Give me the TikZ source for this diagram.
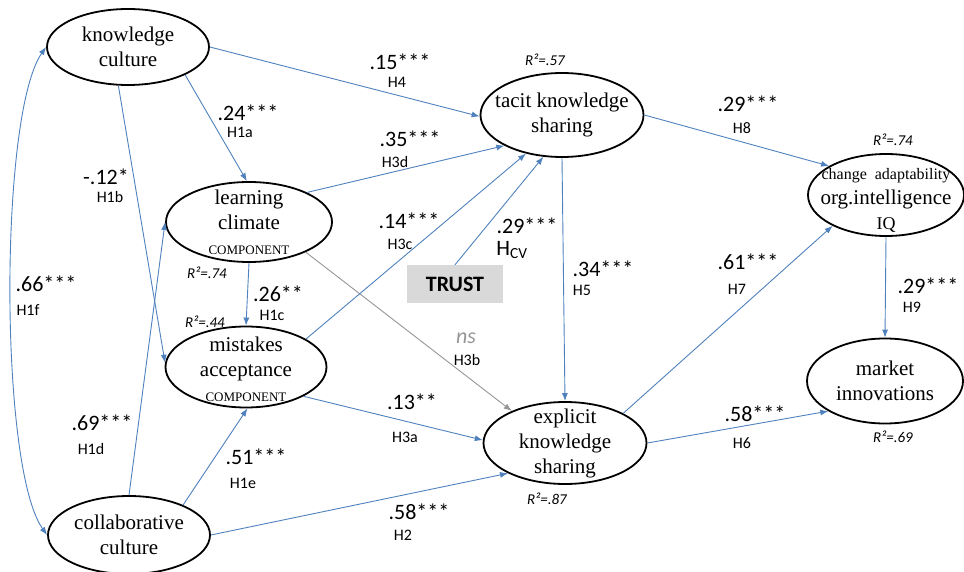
\documentclass[tikz,border=0pt]{standalone}
\usepackage{fontspec}
\setmainfont{Liberation Serif}
\newfontfamily\calibri{Carlito}
\usetikzlibrary{shapes.geometric,arrows.meta,positioning,calc}
\definecolor{pathblue}{RGB}{79,129,189}
\definecolor{nsgray}{RGB}{150,150,150}
\definecolor{trustgray}{RGB}{217,217,217}

\begin{document}
\begin{tikzpicture}[x=1pt,y=1pt,
    construct/.style={ellipse, draw, line width=1.8pt, inner sep=0pt},
    ctext/.style={align=center, font=\fontsize{21}{25}\selectfont},
    link/.style={draw=pathblue, line width=0.9pt, -{Latex[length=8pt,width=6pt]}},
    coef/.style={font=\calibri\fontsize{22}{24}\selectfont, inner sep=0pt},
    hyp/.style={font=\calibri\fontsize{16}{18}\selectfont, inner sep=0pt},
    rsq/.style={font=\calibri\itshape\fontsize{15}{17}\selectfont, inner sep=0pt}]
    \useasboundingbox (0,0) rectangle (964,571);

    % Constructs
    \node[construct, minimum width=162, minimum height=76,
        label={[ctext]center:knowledge\\culture}] (kc) at (128,524) {};
    \node[construct, minimum width=166, minimum height=80,
        label={[ctext]center:learning\\climate\\{\fontsize{13}{15}\selectfont COMPONENT}}] (lc) at (249,349) {};
    \node[construct, minimum width=161, minimum height=81,
        label={[ctext, yshift=-2pt]center:mistakes\\acceptance\\{\fontsize{13}{15}\selectfont COMPONENT}}] (ma) at (246,204) {};
    \node[construct, minimum width=162, minimum height=78,
        label={[ctext]center:collaborative\\culture}] (cc) at (129,36) {};
    \node[construct, minimum width=163, minimum height=84,
        label={[ctext]center:tacit knowledge\\sharing}] (tks) at (562,456) {};
    \node[construct, minimum width=163, minimum height=82,
        label={[ctext]center:explicit\\knowledge\\sharing}] (eks) at (565,128) {};
    \node[construct, minimum width=156, minimum height=82,
        label={[ctext, yshift=-5pt]center:{\fontsize{16}{18}\selectfont change\ \ adaptability}\\org.intelligence\\{\fontsize{18}{19}\selectfont IQ}}] (oiq) at (886,376) {};
    \node[construct, minimum width=156, minimum height=85,
        label={[ctext]center:market\\innovations}] (mi) at (885,190) {};
    \node[fill=trustgray, minimum width=96, minimum height=38,
        font=\calibri\bfseries\fontsize{22}{24}\selectfont] (trust) at (455,287) {TRUST};

    % Paths
    \draw[link] (kc.east) -- (tks.181);
    \draw[link] (kc.-26) -- (lc.93);
    \draw[link] (kc.256) -- (ma.177);
    \draw[link, {Latex[length=8pt,width=6pt]}-{Latex[length=8pt,width=6pt]}]
        (kc.west) .. controls +(-47,-67) and +(-48,67) .. (cc.west);
    \draw[link] (cc.north) -- (lc.west);
    \draw[link] (cc.29) -- (ma.-88);
    \draw[link] (cc.east) -- (eks.208);
    \draw[link] (lc.27) -- (tks.208);
    \draw[link] (lc.south) -- (ma.north);
    \draw[link, draw=nsgray] (lc.-28) -- (eks.149);
    \draw[link] (ma.25) -- (tks.227);
    \draw[link] (ma.-27) -- (eks.178);
    \draw[link] (trust.north) -- (tks.246);
    \draw[link] (tks.south) -- (eks.north);
    \draw[link] (tks.east) -- (oiq.153);
    \draw[link] (eks.27) -- (oiq.210);
    \draw[link] (eks.east) -- (mi.208);
    \draw[link] (oiq.south) -- (mi.north);

    % Coefficients and hypotheses
    \node[coef] (v4) at (400,509) {.15***};   \node[hyp] (h4) at (397,489) {H4};
    \node[coef] (v1a) at (248,458) {.24***};  \node[hyp] (h1a) at (240,439) {H1a};
    \node[coef] (v1b) at (106,394) {-.12*};   \node[hyp] (h1b) at (110,374) {H1b};
    \node[coef] (v1f) at (46,287) {.66***};   \node[hyp] (h1f) at (28,261) {H1f};
    \node[coef] (v1d) at (102,148) {.69***};  \node[hyp] (h1d) at (91,122) {H1d};
    \node[coef] (v1e) at (256,114) {.51***};  \node[hyp] (h1e) at (243,88) {H1e};
    \node[coef] (v1c) at (278,277) {.26**};   \node[hyp] (h1c) at (272,256) {H1c};
    \node[coef] (v3d) at (410,432) {.35***};  \node[hyp] (h3d) at (395,409) {H3d};
    \node[coef] (v3c) at (409,350) {.14***};  \node[hyp] (h3c) at (400,327) {H3c};
    \node[coef] (vcv) at (527,345) {.29***};  \node[coef] (hcv) at (512,321) {H\textsubscript{CV}};
    \node[coef] (v5) at (603,302) {.34***};   \node[hyp] (h5) at (582,281) {H5};
    \node[coef, text=nsgray, font=\calibri\itshape\fontsize{22}{24}\selectfont] (vns) at (466,233) {ns};
    \node[hyp] (h3b) at (467,211) {H3b};
    \node[coef] (v3a) at (412,169) {.13**};   \node[hyp] (h3a) at (405,134) {H3a};
    \node[coef] (v2) at (419,59) {.58***};    \node[hyp] (h2) at (403,36) {H2};
    \node[coef] (v8) at (748,467) {.29***};   \node[hyp] (h8) at (742,443) {H8};
    \node[coef] (v7) at (748,309) {.61***};   \node[hyp] (h7) at (737,282) {H7};
    \node[coef] (v9) at (928,285) {.29***};   \node[hyp] (h9) at (912,264) {H9};
    \node[coef] (v6) at (755,157) {.58***};   \node[hyp] (h6) at (742,128) {H6};

    % Explained variance
    \foreach \n/\x/\y/\r in {rtks/545/511/.57, rlc/207/298/.74, rma/205/249/.44,
                             reks/547/72/.87, roiq/893/431/.74, rmi/893/134/.69} {
        \node[rsq] (\n) at (\x,\y) {R²=\r};
    }
\end{tikzpicture}
\end{document}
